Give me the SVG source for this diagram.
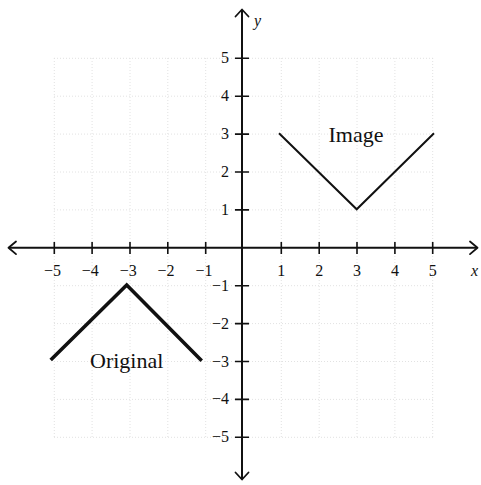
<svg xmlns="http://www.w3.org/2000/svg" width="481" height="485" viewBox="0 0 481 485">
<style>
.grid{stroke:#e2e2e2;stroke-width:1;stroke-dasharray:1 2;fill:none}
.axis{stroke:#111;stroke-width:2;fill:none}
.tick{stroke:#111;stroke-width:1.6}
.arrow{stroke:#111;stroke-width:1.8;fill:none;stroke-linecap:round;stroke-linejoin:round}
.num{font-family:"Liberation Serif","Times New Roman",serif;font-size:16px;fill:#111}
.lbl{font-family:"Liberation Serif","Times New Roman",serif;font-size:22px;fill:#111}
.var{font-family:"Liberation Serif","Times New Roman",serif;font-size:16px;font-style:italic;fill:#111}
</style>
<rect width="481" height="485" fill="#fff"/>
<g id="grid" class="grid">
<path d="M54.3 58V437M92.1 58V437M130 58V437M167.8 58V437M205.7 58V437M281.3 58V437M319.2 58V437M357 58V437M394.9 58V437M432.7 58V437"/>
<path d="M54 58.3H433M54 96.2H433M54 134.1H433M54 172H433M54 209.9H433M54 285.7H433M54 323.6H433M54 361.5H433M54 399.4H433M54 437.3H433"/>
</g>
<g id="axes">
<line class="axis" x1="9" y1="247.8" x2="477" y2="247.8"/>
<line class="axis" x1="242" y1="10" x2="242" y2="479"/>
<path class="arrow" d="M16 241.5L8.5 247.8L16 254.1"/>
<path class="arrow" d="M470 241.5L477.5 247.8L470 254.1"/>
<path class="arrow" d="M235.5 16.5L242 9.5L248.5 16.5"/>
<path class="arrow" d="M235.5 472.5L242 479.5L248.5 472.5"/>
<g class="tick">
<path d="M54.3 242V254M92.1 242V254M130 242V254M167.8 242V254M205.7 242V254M281.3 242V254M319.2 242V254M357 242V254M394.9 242V254M432.7 242V254"/>
<path d="M235 58.3H249M235 96.2H249M235 134.1H249M235 172H249M235 209.9H249M235 285.7H249M235 323.6H249M235 361.5H249M235 399.4H249M235 437.3H249"/>
</g>
<g class="num" text-anchor="middle">
<text x="52.5" y="276">−5</text>
<text x="90.3" y="276">−4</text>
<text x="128.2" y="276">−3</text>
<text x="166" y="276">−2</text>
<text x="203.9" y="276">−1</text>
<text x="281.3" y="276">1</text>
<text x="319.2" y="276">2</text>
<text x="357" y="276">3</text>
<text x="394.9" y="276">4</text>
<text x="432.7" y="276">5</text>
</g>
<g class="num" text-anchor="end">
<text x="229" y="63.3">5</text>
<text x="229" y="101.2">4</text>
<text x="229" y="139.1">3</text>
<text x="229" y="177">2</text>
<text x="229" y="214.9">1</text>
<text x="229" y="290.7">−1</text>
<text x="229" y="328.6">−2</text>
<text x="229" y="366.5">−3</text>
<text x="229" y="404.4">−4</text>
<text x="229" y="442.3">−5</text>
</g>
<text class="var" x="471" y="276">x</text>
<text class="var" x="254" y="26">y</text>
</g>
<g id="original">
<polyline points="50.7,360 126.7,285 201.7,360.7" fill="none" stroke="#111" stroke-width="3.6" stroke-linejoin="miter"/>
<text class="lbl" x="90" y="368">Original</text>
</g>
<g id="image">
<polyline points="279,133.3 356.7,209.3 434,133.3" fill="none" stroke="#111" stroke-width="2"/>
<text class="lbl" x="328.5" y="141.5">Image</text>
</g>
</svg>
